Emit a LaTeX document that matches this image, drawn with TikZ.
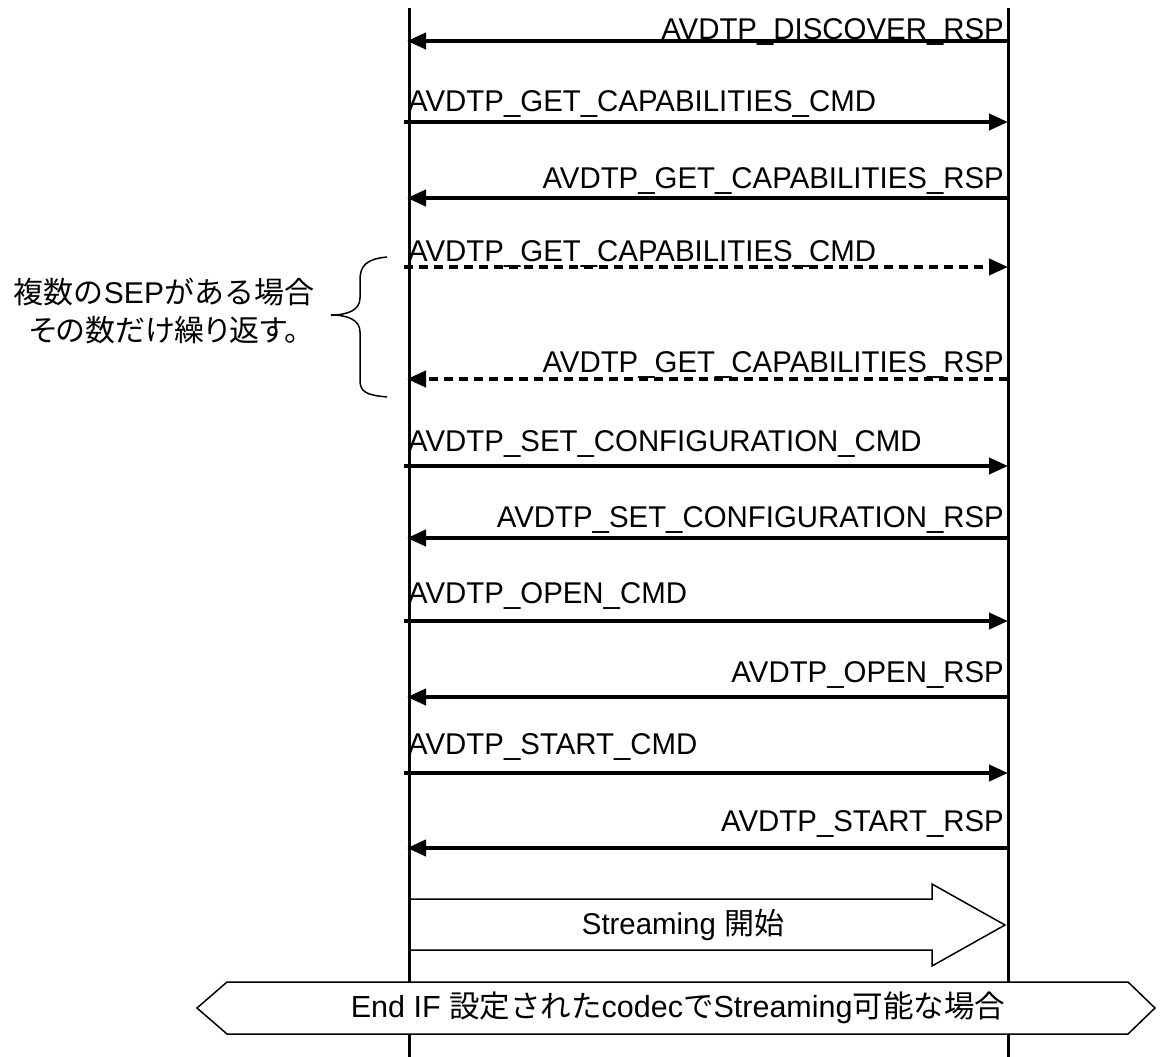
\documentclass[tikz,border=0pt]{standalone}
\usepackage{fontspec}
\setmainfont{Liberation Sans}
\newfontfamily\narrow[FakeStretch=0.98]{Liberation Sans}
\newfontfamily\jp{Noto Sans CJK JP}
\newfontfamily\jpp[RawFeature=+palt]{Noto Sans CJK JP}
\usetikzlibrary{arrows.meta}
\begin{document}
\begin{tikzpicture}[x=1pt,y=-1pt,
  life/.style={line width=3pt},
  msg/.style={line width=4pt,-{Triangle[length=19pt,width=16pt]}},
  dmsg/.style={msg,dash pattern=on 9pt off 6pt},
  lbl/.style={inner sep=0pt,font=\fontsize{30}{34}\narrow},
  big/.style={inner sep=0pt,font=\fontsize{30}{38}\selectfont},
  bigger/.style={inner sep=0pt,font=\fontsize{30.5}{38}\selectfont},
  shapeline/.style={line width=1.5pt}]
\useasboundingbox (0,0) rectangle (1160,1057);

% lifeline ends
\coordinate (Ltop) at (409,8);
\coordinate (Lbot) at (409,1057);
\coordinate (Rtop) at (1008,8);
\coordinate (Rbot) at (1008,1057);

% block arrow (drawn before lifelines)
\draw[shapeline,fill=white] (409,899) -- (932,899) -- (932,884) -- (1005,925)
  -- (932,966) -- (932,950) -- (409,950);
\node[lbl,anchor=center] (stream) at (683,925) {Streaming {\jp 開始}};

\draw[life] (Ltop) -- (Lbot);
\draw[life] (Rtop) -- (Rbot);

% message anchor points
\foreach \n/\y in {1/41,2/122,3/198,4/267,5/379,6/466,7/538,8/621,9/697,10/773,11/848}{
  \coordinate (L\n) at (407,\y);
  \coordinate (R\n) at (1008,\y);
  \coordinate (Ls\n) at (404,\y);
}

% messages
\draw[msg] (R1) -- (L1);
\node[lbl,anchor=base east] (t1) at (1004,39.5) {AVDTP\_DISCOVER\_RSP};
\draw[msg] (Ls2) -- (R2);
\node[lbl,anchor=base west] (t2) at (408,111) {AVDTP\_GET\_CAPABILITIES\_CMD};
\draw[msg] (R3) -- (L3);
\node[lbl,anchor=base east] (t3) at (1004,188) {AVDTP\_GET\_CAPABILITIES\_RSP};
\draw[dmsg] (Ls4) -- (R4);
\node[lbl,anchor=base west] (t4) at (408,261) {AVDTP\_GET\_CAPABILITIES\_CMD};
\draw[dmsg] (R5) -- (L5);
\node[lbl,anchor=base east] (t5) at (1004,372) {AVDTP\_GET\_CAPABILITIES\_RSP};
\draw[msg] (Ls6) -- (R6);
\node[lbl,anchor=base west] (t6) at (408,451) {AVDTP\_SET\_CONFIGURATION\_CMD};
\draw[msg] (R7) -- (L7);
\node[lbl,anchor=base east] (t7) at (1004,527) {AVDTP\_SET\_CONFIGURATION\_RSP};
\draw[msg] (Ls8) -- (R8);
\node[lbl,anchor=base west] (t8) at (408,603) {AVDTP\_OPEN\_CMD};
\draw[msg] (R9) -- (L9);
\node[lbl,anchor=base east] (t9) at (1004,682) {AVDTP\_OPEN\_RSP};
\draw[msg] (Ls10) -- (R10);
\node[lbl,anchor=base west] (t10) at (408,754) {AVDTP\_START\_CMD};
\draw[msg] (R11) -- (L11);
\node[lbl,anchor=base east] (t11) at (1004,831) {AVDTP\_START\_RSP};

% brace
\draw[shapeline] (387,257) .. controls (366,259) and (360,266) .. (360,280)
  -- (360,298) .. controls (360,310) and (348,315) .. (331,315)
  .. controls (348,315) and (360,320) .. (360,332)
  -- (360,380) .. controls (360,392) and (366,395) .. (387,397);
\node[big,anchor=center,align=center] (note) at (164,311)
  {{\jp 複数の}SEP{\jp がある場合}\\{\jpp その数だけ繰り返す。}};

% End IF hexagon
\draw[shapeline,fill=white] (197,1008) -- (227,982) -- (1128,982) -- (1155,1008)
  -- (1128,1034) -- (227,1034) -- cycle;
\node[bigger,anchor=center] (endif) at (678,1008)
  {End IF {\jp 設定された}codec{\jp で}Streaming{\jp 可能な場合}};
\end{tikzpicture}
\end{document}
